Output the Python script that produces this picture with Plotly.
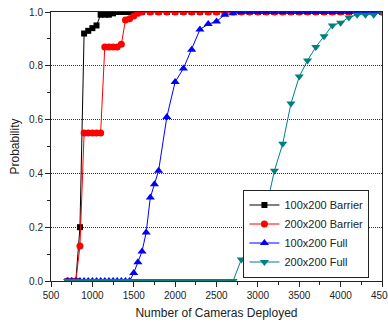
import plotly.graph_objects as go

# ---- data ----
black_x = [700, 750, 800, 850, 900, 950, 1000, 1050, 1100, 1150, 1200, 1250, 1300, 1350, 1400, 1450, 1500,
           1600, 1700, 1800, 1900, 2000, 2100, 2200, 2300, 2400, 2500, 2600, 2700, 2800, 2900, 3000,
           3100, 3200, 3300, 3400, 3500, 3600, 3700, 3800, 3900, 4000, 4100, 4200, 4300, 4400, 4500]
black_y = [0, 0, 0, 0.20, 0.92, 0.93, 0.94, 0.95, 0.99, 0.99, 0.99, 0.995, 1.0, 1.0, 1.0, 1.0, 1.0,
           1.0, 1.0, 1.0, 1.0, 1.0, 1.0, 1.0, 1.0, 1.0, 1.0, 1.0, 1.0, 1.0, 1.0, 1.0,
           1.0, 1.0, 1.0, 1.0, 1.0, 1.0, 1.0, 1.0, 1.0, 1.0, 1.0, 1.0, 1.0, 1.0, 1.0]

red_x = [700, 750, 800, 850, 900, 950, 1000, 1050, 1100, 1150, 1200, 1250, 1300, 1350, 1400, 1450, 1500,
         1550, 1600, 1700, 1800, 1900, 2000, 2100, 2200, 2300, 2400, 2500, 2600, 2700, 2800, 2900, 3000,
         3100, 3200, 3300, 3400, 3500, 3600, 3700, 3800, 3900, 4000, 4100, 4200, 4300, 4400, 4500]
red_y = [0, 0, 0, 0.13, 0.55, 0.55, 0.55, 0.55, 0.55, 0.87, 0.87, 0.87, 0.87, 0.88, 0.97, 0.975, 0.985,
         0.995, 1.0, 1.0, 1.0, 1.0, 1.0, 1.0, 1.0, 1.0, 1.0, 1.0, 1.0, 1.0, 1.0, 1.0, 1.0,
         1.0, 1.0, 1.0, 1.0, 1.0, 1.0, 1.0, 1.0, 1.0, 1.0, 1.0, 1.0, 1.0, 1.0, 1.0]

blue_x = [700, 750, 800, 850, 900, 950, 1000, 1050, 1100, 1150, 1200, 1250, 1300, 1350, 1400, 1450,
          1500, 1550, 1600, 1650, 1700, 1750, 1800, 1900, 2000, 2100, 2200, 2300, 2400, 2500, 2600,
          2700, 2800, 2900, 3000, 3100, 3200, 3300, 3400, 3500, 3600, 3700, 3800, 3900, 4000, 4100,
          4200, 4300, 4400, 4500]
blue_y = [0, 0, 0, 0, 0, 0, 0, 0, 0, 0, 0, 0, 0, 0, 0, 0,
          0.03, 0.07, 0.11, 0.18, 0.31, 0.36, 0.41, 0.61, 0.74, 0.79, 0.86, 0.935, 0.955, 0.965, 0.99,
          0.995, 1.0, 1.0, 1.0, 1.0, 1.0, 1.0, 1.0, 1.0, 1.0, 1.0, 1.0, 1.0, 1.0, 1.0,
          1.0, 1.0, 1.0, 1.0]

teal_x = [700, 750, 800, 850, 900, 950, 1000, 1050, 1100, 1150, 1200, 1250, 1300, 1350, 1400, 1450,
          1500, 1550, 1600, 1650, 1700, 1750, 1800, 1850, 1900, 1950, 2000, 2050, 2100, 2150, 2200,
          2250, 2300, 2350, 2400, 2450, 2500, 2550, 2600, 2650, 2700,
          2800, 2900, 3000, 3100, 3200, 3300, 3400, 3500, 3600, 3700, 3800, 3900, 4000, 4100, 4200,
          4300, 4400, 4500]
teal_y = [0, 0, 0, 0, 0, 0, 0, 0, 0, 0, 0, 0, 0, 0, 0, 0,
          0, 0, 0, 0, 0, 0, 0, 0, 0, 0, 0, 0, 0, 0, 0,
          0, 0, 0, 0, 0, 0, 0, 0, 0, 0,
          0.08, 0.11, 0.20, 0.27, 0.41, 0.51, 0.66, 0.76, 0.82, 0.87, 0.91, 0.95, 0.96, 0.98, 0.99,
          0.99, 0.99, 1.0]

series = [
    ("100x200 Barrier", black_x, black_y, "#000000", "square", 6),
    ("200x200 Barrier", red_x, red_y, "#FF0000", "circle", 7),
    ("100x200 Full", blue_x, blue_y, "#0000FF", "triangle-up", 8),
    ("200x200 Full", teal_x, teal_y, "#008080", "triangle-down", 8),
]

fig = go.Figure()
for name, xs, ys, col, sym, sz in series:
    fig.add_trace(go.Scatter(
        x=xs, y=ys, name=name, mode="lines+markers",
        line=dict(color=col, width=1),
        marker=dict(symbol=sym, size=sz, color=col, line=dict(width=0)),
    ))

axis_font = dict(family="Liberation Sans, Arial, sans-serif", size=10, color="#222")
fig.update_layout(
    width=388, height=327,
    margin=dict(l=51, r=6, t=12, b=46, pad=0),
    paper_bgcolor="white", plot_bgcolor="white",
    font=dict(family="Liberation Sans, Arial, sans-serif", color="#222"),
    showlegend=True,
    legend=dict(
        x=0.962, y=0.013, xanchor="right", yanchor="bottom",
        bgcolor="white", bordercolor="#222", borderwidth=1,
        font=dict(size=11, color="#222"),
        tracegroupgap=0, itemwidth=30,
    ),
    xaxis=dict(
        range=[500, 4500], dtick=500, tick0=500, automargin=False,
        showline=True, linecolor="#222", linewidth=1, mirror=True,
        ticks="outside", ticklen=5, tickcolor="#222",
        minor=dict(dtick=250, ticks="outside", ticklen=3, tickcolor="#222", showgrid=False),
        showgrid=False, zeroline=False, ticklabeloverflow="allow",
        tickfont=axis_font,
        title=dict(text="Number of Cameras Deployed", font=dict(size=12), standoff=8),
    ),
    yaxis=dict(
        range=[0, 1.0], dtick=0.2, tickformat=".1f", automargin=False,
        showline=True, linecolor="#222", linewidth=1, mirror=True,
        ticks="outside", ticklen=5, tickcolor="#222",
        minor=dict(dtick=0.1, ticks="outside", ticklen=3, tickcolor="#222", showgrid=False),
        showgrid=True, gridcolor="#333", gridwidth=1, griddash="1px,1px",
        zeroline=False, ticklabeloverflow="allow",
        tickfont=axis_font,
        title=dict(text="Probability", font=dict(size=12), standoff=6),
    ),
)

fig.write_html(
    "out.html",
    config={"displayModeBar": False},
    post_script="document.body.style.margin='0';document.body.style.overflow='hidden';",
)
